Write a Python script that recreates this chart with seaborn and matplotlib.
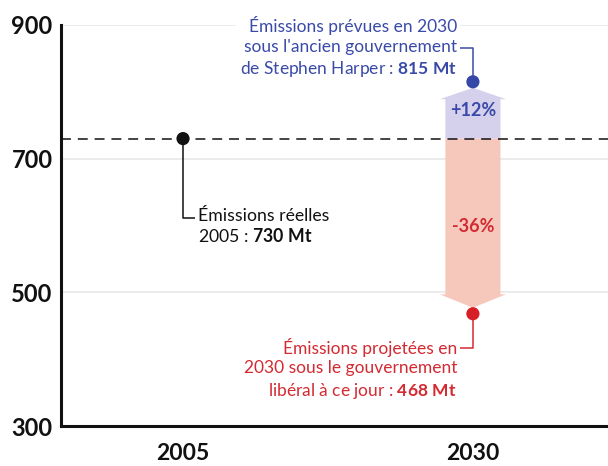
import numpy as np
import pandas as pd
import seaborn as sns
import matplotlib.pyplot as plt
from matplotlib.patches import FancyArrow

# data
years = ["2005", "2030", "2030"]
emissions = [730, 815, 468]
series = ["reel", "harper", "liberal"]
dot_colors = ["#111111", "#3548A8", "#D71F27"]
y_ticks = [300, 500, 700, 900]

baseline = emissions[0]
harper = emissions[1]
liberal = emissions[2]

BLUE_TXT = "#3A4AA8"
RED_TXT = "#D42A32"
BLUE_FILL = "#D5D0EC"
RED_FILL = "#F5C8BB"

sns.set_theme(style="white")
plt.rcParams["font.family"] = ["Lato", "DejaVu Sans"]
plt.rcParams["mathtext.fontset"] = "custom"
plt.rcParams["mathtext.rm"] = "Lato"
plt.rcParams["mathtext.bf"] = "Lato:bold"

df = pd.DataFrame({"annee": years, "mt": emissions, "serie": series})

fig = plt.figure(figsize=(6.08, 4.66), dpi=100, facecolor="white")
ax = fig.add_axes([0.1003, 0.0858, 0.8997, 0.8606])

# grid lines
for t in y_ticks[1:]:
    ax.axhline(t, color="#E6E6E6", lw=1.1, zorder=0)

# arrows 2005 -> 2030 scenarios
gap = 9
x30 = 1
up = FancyArrow(x30, baseline, 0, (harper - gap) - baseline, width=0.19,
                head_width=0.228, head_length=17, length_includes_head=True,
                color=BLUE_FILL, lw=0, zorder=1)
down = FancyArrow(x30, baseline, 0, (liberal + gap) - baseline, width=0.19,
                  head_width=0.228, head_length=20, length_includes_head=True,
                  color=RED_FILL, lw=0, zorder=1)
ax.add_patch(up)
ax.add_patch(down)

ax.axhline(baseline, color="#111111", lw=1.1, ls=(0, (6.5, 4.5)), zorder=2)

sns.scatterplot(data=df, x="annee", y="mt", hue="serie", palette=dot_colors,
                s=90, linewidth=0, legend=False, ax=ax, zorder=5)

# percentage labels
pct_up = (harper - baseline) / baseline * 100
pct_down = (liberal - baseline) / baseline * 100
ax.text(x30, (harper + baseline) / 2, f"+{pct_up:.0f}%", color=BLUE_TXT,
        fontsize=13, fontweight="bold", ha="center", va="center", zorder=3)
ax.text(x30, (liberal + baseline) / 2, f"{pct_down:.0f}%", color=RED_TXT,
        fontsize=13, fontweight="bold", ha="center", va="center", zorder=3)

box = dict(boxstyle="square,pad=0.2", fc="white", ec="none")

ax.annotate("Émissions réelles\n2005 : $\\mathbf{730\\;Mt}$",
            xy=(0, baseline), xytext=(11, -63), textcoords="offset points",
            ha="left", va="center", fontsize=12.7, color="#111111", bbox=box,
            arrowprops=dict(arrowstyle="-", color="#111111", lw=1.1,
                            connectionstyle="angle,angleA=0,angleB=90,rad=0",
                            relpos=(0, 0.72), shrinkA=0, shrinkB=0), zorder=4)

ax.annotate("Émissions prévues en 2030\nsous l'ancien gouvernement\nde Stephen Harper : $\\mathbf{815\\;Mt}$",
            xy=(x30, harper), xytext=(-11.5, 24.5), textcoords="offset points",
            ha="right", va="center", fontsize=12.5, color=BLUE_TXT, bbox=box,
            linespacing=1.3,
            arrowprops=dict(arrowstyle="-", color=BLUE_TXT, lw=1.1,
                            connectionstyle="angle,angleA=0,angleB=90,rad=0",
                            relpos=(1, 0.5), shrinkA=0, shrinkB=0), zorder=4)

ax.annotate("Émissions projetées en\n2030 sous le gouvernement\nlibéral à ce jour : $\\mathbf{468\\;Mt}$",
            xy=(x30, liberal), xytext=(-11.5, -40), textcoords="offset points",
            ha="right", va="center", fontsize=12.5, color=RED_TXT, bbox=box,
            linespacing=1.3,
            arrowprops=dict(arrowstyle="-", color=RED_TXT, lw=1.1,
                            connectionstyle="angle,angleA=0,angleB=90,rad=0",
                            relpos=(1, 0.83), shrinkA=0, shrinkB=0), zorder=4)

ax.set_xlim(-0.421, 1.466)
ax.set_ylim(300, 900)
ax.set_yticks(y_ticks)
ax.set_xlabel("")
ax.set_ylabel("")

sns.despine(ax=ax)
for side in ["left", "bottom"]:
    ax.spines[side].set_color("#111111")
    ax.spines[side].set_linewidth(2.2)
    ax.spines[side].set_zorder(6)

ax.tick_params(axis="y", length=0, pad=6, labelsize=17, labelcolor="#111111")
ax.tick_params(axis="x", direction="in", length=7, width=2, color="#111111",
               pad=12, labelsize=16.5, labelcolor="#111111")
for lab in ax.get_xticklabels() + ax.get_yticklabels():
    lab.set_fontweight("bold")

fig.savefig("out.png", dpi=100, facecolor="white")
